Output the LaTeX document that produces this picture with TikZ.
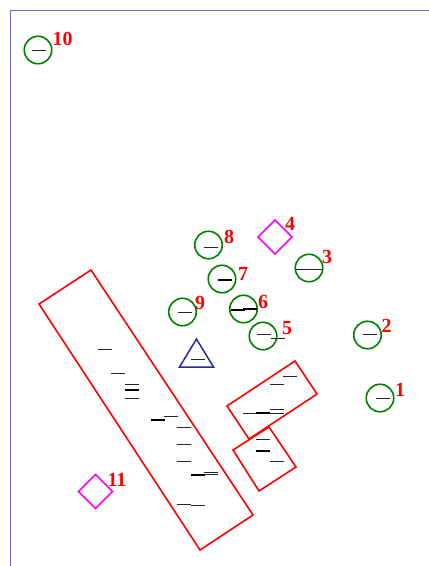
\documentclass[tikz,border=0pt]{standalone}
\usepackage{fontspec}
\setmainfont{Liberation Serif}
\usetikzlibrary{shapes.geometric}
\definecolor{framecol}{RGB}{110,110,200}
\definecolor{gcol}{RGB}{0,128,0}
\definecolor{tricol}{RGB}{40,40,150}
\definecolor{magcol}{RGB}{255,0,255}
\definecolor{redcol}{RGB}{255,0,0}
\tikzset{
  frameline/.style={draw=framecol, line width=1pt},
  gcirc/.style={circle, draw=gcol, line width=1.6pt, minimum size=27.5pt, inner sep=0pt},
  lbl/.style={text=redcol, font=\fontsize{20}{20}\selectfont\bfseries, inner sep=0pt},
  redbox/.style={draw=redcol, line width=1.6pt, line join=miter},
  magdia/.style={draw=magcol, line width=1.6pt},
  tribox/.style={draw=tricol, line width=1.5pt},
  tk/.style={draw=black!85, line width=1pt},
  tkb/.style={draw=black, line width=2pt}
}
\newcommand\tk[2]{\draw[tk] (#1-7,#2) -- (#1+7,#2);}
\newcommand\tkb[2]{\draw[tkb] (#1-7,#2) -- (#1+7,#2);}
\begin{document}
\begin{tikzpicture}[x=1pt,y=-1pt]
\useasboundingbox (0,0) rectangle (429,566);
% frame
\coordinate (fa) at (10,566);
\coordinate (fb) at (10,10);
\coordinate (fc) at (429,10);
\draw[frameline] (fa) -- (fb) -- (fc);
% red boxes
\draw[redbox] (39,304) -- (91,270) -- (253,515) -- (200,550) -- cycle;
\draw[redbox] (227,406) -- (295,361) -- (317,394) -- (249,439) -- cycle;
\draw[redbox] (233,450) -- (269,427) -- (296,467) -- (259,491) -- cycle;
% circles
\node[gcirc] (c10) at (38,50) {};
\node[gcirc] (c8) at (208.5,245) {};
\node[gcirc] (c3) at (309,268) {};
\node[gcirc] (c7) at (222,279) {};
\node[gcirc] (c9) at (182.5,312) {};
\node[gcirc] (c6) at (243.5,309) {};
\node[gcirc] (c5) at (263,336) {};
\node[gcirc] (c2) at (367.5,335) {};
\node[gcirc] (c1) at (380,398) {};
% diamonds
\draw[magdia] (258,237) -- (275,220) -- (292,237) -- (275,254) -- cycle;
\draw[magdia] (78.5,491.5) -- (95.5,474.5) -- (112.5,491.5) -- (95.5,508.5) -- cycle;
% triangle
\draw[tribox] (196.5,339) -- (213.5,367) -- (179.5,367) -- cycle;
% labels
\node[lbl] (l10) at (62.5,39) {10};
\node[lbl] (l8) at (229,237) {8};
\node[lbl] (l4) at (290,223.5) {4};
\node[lbl] (l3) at (327,257) {3};
\node[lbl] (l7) at (243,274) {7};
\node[lbl] (l9) at (200,302.5) {9};
\node[lbl] (l6) at (263,301.5) {6};
\node[lbl] (l5) at (287,328.5) {5};
\node[lbl] (l2) at (386.5,326) {2};
\node[lbl] (l1) at (400,390) {1};
\node[lbl] (l11) at (117,480) {11};
% dashes in circles
\tk{39}{50}
\tk{211}{247}
\tkb{224.5}{280}
\tk{184.5}{312}
\tkb{238}{310}
\tkb{250}{309}
\tk{263.5}{334}
\tk{277.5}{338}
\tk{303}{269}
\tk{316}{269}
\tk{369.5}{334}
\tk{382.5}{398}
\tk{198}{359}
% dashes in big box
\tk{105}{349}
\tk{118}{373}
\tk{132}{384}
\tkb{132}{390}
\tk{132}{398}
\tkb{158}{420}
\tk{171}{416}
\tk{184}{427}
\tk{184}{444}
\tk{184}{461}
\tkb{198}{475}
\tk{211}{472}
\tk{211}{474.5}
\tk{184}{504}
\tk{198}{505}
% dashes in box A
\tk{290}{376}
\tk{277}{384}
\tk{277}{409}
\tk{250}{413}
\tkb{263}{413}
\tk{277}{413}
% dashes in box B
\tk{263}{439}
\tkb{263}{451}
\tk{277}{461}
\end{tikzpicture}
\end{document}
